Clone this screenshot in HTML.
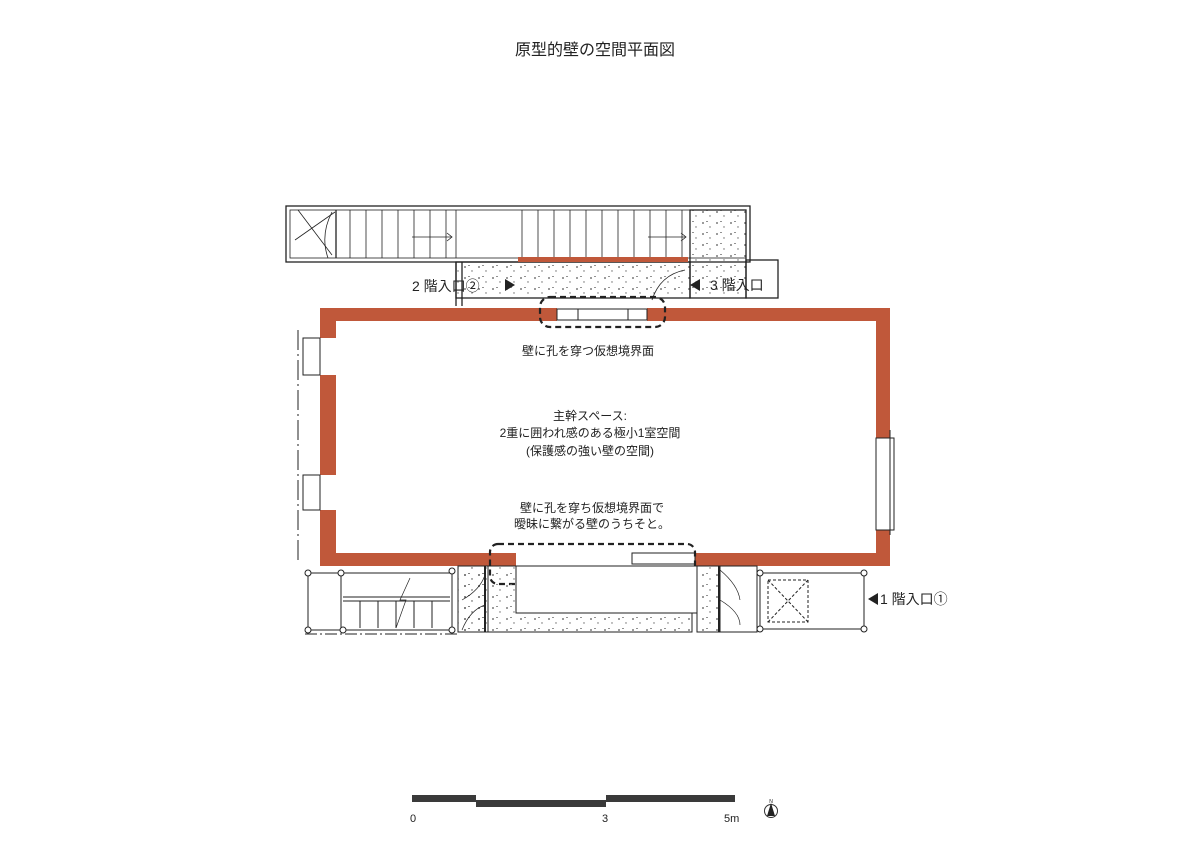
<!DOCTYPE html>
<html><head><meta charset="utf-8"><style>
html,body{margin:0;padding:0;background:#fff}
svg{display:block}
text{font-family:"Liberation Sans","Noto Sans CJK JP",sans-serif;fill:#222}
</style></head><body>
<svg width="1190" height="841" viewBox="0 0 1190 841" xmlns="http://www.w3.org/2000/svg">
<defs>
<pattern id="dots" width="14" height="11" patternUnits="userSpaceOnUse">
<circle cx="3" cy="3" r="0.9" fill="#555"/><circle cx="10" cy="7" r="0.7" fill="#666"/><rect x="6" y="1" width="2" height="0.8" fill="#777"/>
</pattern>
</defs>
<text x="595" y="55" font-size="16" text-anchor="middle">原型的壁の空間平面図</text>

<g fill="none" stroke="#222" stroke-width="1.3">
<rect x="286" y="206" width="464" height="56"/>
<rect x="290" y="210" width="456" height="48" stroke-width="0.8"/>
<line x1="298" y1="210" x2="332" y2="255" stroke-width="0.8"/>
<line x1="295" y1="240" x2="335" y2="212" stroke-width="0.8"/>
<path d="M332 212 Q320 235 328 258" stroke-width="0.8"/>
<line x1="336" y1="210" x2="336" y2="258"/>
<g stroke-width="0.8">
<line x1="350" y1="210" x2="350" y2="258"/><line x1="366" y1="210" x2="366" y2="258"/><line x1="382" y1="210" x2="382" y2="258"/>
<line x1="398" y1="210" x2="398" y2="258"/><line x1="414" y1="210" x2="414" y2="258"/><line x1="430" y1="210" x2="430" y2="258"/>
<line x1="446" y1="210" x2="446" y2="258"/><line x1="456" y1="210" x2="456" y2="258"/>
<line x1="522" y1="210" x2="522" y2="258"/><line x1="538" y1="210" x2="538" y2="258"/><line x1="554" y1="210" x2="554" y2="258"/>
<line x1="570" y1="210" x2="570" y2="258"/><line x1="586" y1="210" x2="586" y2="258"/><line x1="602" y1="210" x2="602" y2="258"/>
<line x1="618" y1="210" x2="618" y2="258"/><line x1="634" y1="210" x2="634" y2="258"/><line x1="650" y1="210" x2="650" y2="258"/>
<line x1="666" y1="210" x2="666" y2="258"/><line x1="682" y1="210" x2="682" y2="258"/>
<line x1="412" y1="237" x2="452" y2="237"/><path d="M447 233 L452 237 L447 241"/>
<line x1="648" y1="237" x2="686" y2="237"/><path d="M681 233 L686 237 L681 241"/>
</g>
<rect x="690" y="210" width="56" height="88" fill="url(#dots)"/>
<rect x="456" y="262" width="234" height="36" fill="url(#dots)"/>
<rect x="746" y="260" width="32" height="38"/>
<line x1="456" y1="262" x2="456" y2="306"/><line x1="462" y1="262" x2="462" y2="306"/>
<path d="M685 270 Q660 275 652 300" stroke-width="0.8"/>
</g>
<rect x="518" y="257" width="170" height="5" fill="#c0583a"/>

<g fill="#c0583a">
<rect x="320" y="308" width="237" height="13"/>
<rect x="647" y="308" width="243" height="13"/>
<rect x="320" y="308" width="16" height="30"/>
<rect x="320" y="375" width="16" height="100"/>
<rect x="320" y="510" width="16" height="56"/>
<rect x="320" y="553" width="196" height="13"/>
<rect x="695" y="553" width="195" height="13"/>
<rect x="876" y="308" width="14" height="130"/>
<rect x="876" y="530" width="14" height="36"/>
</g>
<g fill="none" stroke="#222" stroke-width="1">
<rect x="557" y="309" width="90" height="11"/><line x1="578" y1="309" x2="578" y2="320"/><line x1="628" y1="309" x2="628" y2="320"/>
<rect x="303" y="338" width="17" height="37"/><rect x="303" y="475" width="17" height="35"/>
<rect x="876" y="438" width="18" height="92"/><line x1="890" y1="430" x2="890" y2="535"/>
<rect x="632" y="553" width="63" height="11"/>
<line x1="298" y1="330" x2="298" y2="560" stroke-dasharray="20 4 2 4"/>
</g>
<g fill="none" stroke="#222" stroke-width="2.2" stroke-dasharray="6 4">
<rect x="540" y="297" width="125" height="30" rx="10"/>
<rect x="490" y="544" width="205" height="40" rx="8"/>
</g>

<g fill="none" stroke="#222" stroke-width="1">
<rect x="458" y="566" width="234" height="66" fill="url(#dots)"/>
<rect x="516" y="566" width="181" height="47" fill="#fff"/>
<rect x="458" y="566" width="30" height="66" fill="url(#dots)"/>
<rect x="697" y="566" width="22" height="66" fill="url(#dots)"/>
<rect x="720" y="566" width="37" height="66"/>
<line x1="485" y1="566" x2="485" y2="632" stroke-width="2"/><line x1="719" y1="566" x2="719" y2="632" stroke-width="2"/>
<path d="M462 600 Q480 590 485 575 M462 630 Q470 610 485 605" stroke-width="0.7"/>
<path d="M720 570 Q738 585 740 600 M720 600 Q740 612 740 625" stroke-width="0.7"/>
<rect x="308" y="573" width="144" height="57"/>
<line x1="341" y1="573" x2="341" y2="630"/>
<line x1="343" y1="597" x2="450" y2="597"/><line x1="343" y1="601" x2="450" y2="601"/>
<line x1="360" y1="601" x2="360" y2="628"/><line x1="378" y1="601" x2="378" y2="628"/><line x1="396" y1="601" x2="396" y2="628"/><line x1="414" y1="601" x2="414" y2="628"/><line x1="432" y1="601" x2="432" y2="628"/>
<path d="M410 578 L400 600 L406 600 L396 628" stroke-width="0.7"/>
<rect x="760" y="573" width="104" height="56"/>
<rect x="768" y="580" width="40" height="42" stroke-dasharray="3 2"/>
<line x1="768" y1="580" x2="808" y2="622" stroke-dasharray="3 2"/><line x1="808" y1="580" x2="768" y2="622" stroke-dasharray="3 2"/>
<line x1="305" y1="634" x2="460" y2="634" stroke-dasharray="12 3 2 3"/>
</g>
<g fill="#fff" stroke="#222" stroke-width="1">
<circle cx="308" cy="573" r="3"/><circle cx="341" cy="573" r="3"/><circle cx="452" cy="571" r="3"/>
<circle cx="308" cy="630" r="3"/><circle cx="343" cy="630" r="3"/><circle cx="452" cy="630" r="3"/>
<circle cx="760" cy="573" r="3"/><circle cx="864" cy="573" r="3"/><circle cx="760" cy="629" r="3"/><circle cx="864" cy="629" r="3"/>
</g>

<text x="412" y="291" font-size="14" fill="#444">2 階入口②</text>
<path d="M505 279 L515 285 L505 291 Z" fill="#222"/>
<path d="M690 285 L700 279 L700 291 Z" fill="#222"/>
<text x="710" y="290" font-size="14" fill="#444">3 階入口</text>
<path d="M868 599 L878 593 L878 605 Z" fill="#222"/>
<text x="880" y="604" font-size="14" fill="#444">1 階入口①</text>

<text x="588" y="355" font-size="12" text-anchor="middle">壁に孔を穿つ仮想境界面</text>
<text x="590" y="420" font-size="12" text-anchor="middle">主幹スペース:</text>
<text x="590" y="437" font-size="12" text-anchor="middle">2重に囲われ感のある極小1室空間</text>
<text x="590" y="455" font-size="12" text-anchor="middle">(保護感の強い壁の空間)</text>
<text x="592" y="512" font-size="12" text-anchor="middle">壁に孔を穿ち仮想境界面で</text>
<text x="592" y="528" font-size="12" text-anchor="middle">曖昧に繋がる壁のうちそと。</text>

<rect x="412" y="795" width="64" height="7" fill="#3a3a3a"/>
<rect x="476" y="800" width="130" height="7" fill="#3a3a3a"/>
<rect x="606" y="795" width="129" height="7" fill="#3a3a3a"/>
<text x="410" y="822" font-size="11">0</text>
<text x="602" y="822" font-size="11">3</text>
<text x="724" y="822" font-size="11">5m</text>
<circle cx="771" cy="811" r="6.5" fill="none" stroke="#333" stroke-width="1"/>
<path d="M771 803 L767 816 L775 816 Z" fill="#222"/>
<text x="771" y="803" font-size="5" text-anchor="middle">N</text>
</svg>
</body></html>
